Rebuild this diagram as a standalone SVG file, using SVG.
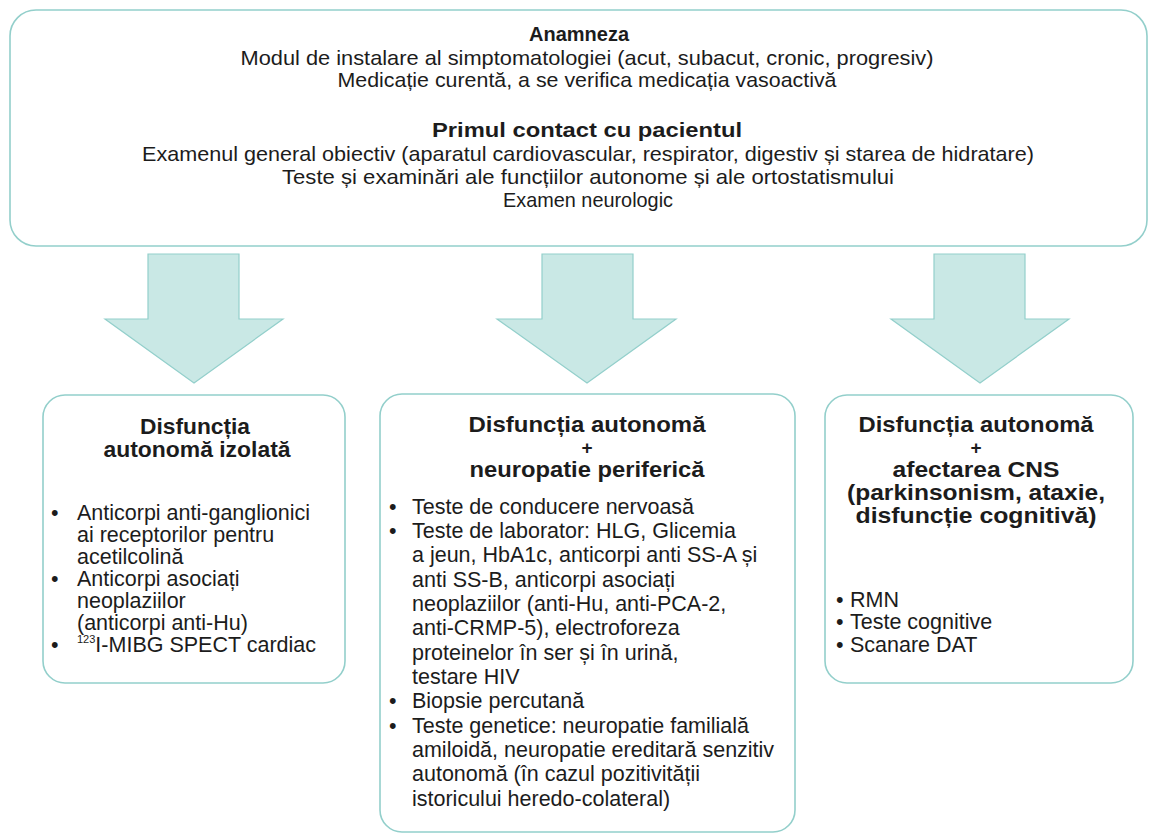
<svg xmlns="http://www.w3.org/2000/svg" width="1154" height="839" viewBox="0 0 1154 839">
  <style>
    .box { fill: #ffffff; stroke: #93cfcb; stroke-width: 1.6; }
    .arrow { fill: #c9e8e5; stroke: #93cfcb; stroke-width: 1.2; }
    text { font-family: "Liberation Sans", Arial, sans-serif; fill: #1c1c1c; }
    .t { font-size: 21px; text-anchor: middle; }
    .tb { font-size: 21px; font-weight: bold; text-anchor: middle; }
    .h { font-size: 22px; font-weight: bold; text-anchor: middle; }
    .plus { font-size: 19px; font-weight: bold; text-anchor: middle; }
    .b { font-size: 21.5px; }
    .sup { font-size: 11px; }
  </style>
  <rect width="1154" height="839" fill="#ffffff"/>

  <!-- initial assessment -->
  <g id="assessment">
    <rect class="box" x="10" y="10" width="1137" height="236" rx="26"/>
    <text class="tb" x="579" y="41" textLength="100" lengthAdjust="spacingAndGlyphs">Anamneza</text>
    <text class="t" x="587" y="65" textLength="693" lengthAdjust="spacingAndGlyphs">Modul de instalare al simptomatologiei (acut, subacut, cronic, progresiv)</text>
    <text class="t" x="587" y="87" textLength="499" lengthAdjust="spacingAndGlyphs">Medicație curentă, a se verifica medicația vasoactivă</text>
    <text class="tb" x="587" y="137" textLength="310" lengthAdjust="spacingAndGlyphs">Primul contact cu pacientul</text>
    <text class="t" x="588" y="161" textLength="892" lengthAdjust="spacingAndGlyphs">Examenul general obiectiv (aparatul cardiovascular, respirator, digestiv și starea de hidratare)</text>
    <text class="t" x="588" y="184" textLength="612" lengthAdjust="spacingAndGlyphs">Teste și examinări ale funcțiilor autonome și ale ortostatismului</text>
    <text class="t" x="588" y="207" textLength="170" lengthAdjust="spacingAndGlyphs">Examen neurologic</text>
  </g>

  <!-- block arrows -->
  <g id="connectors">
    <polygon class="arrow" points="148,254 239,254 239,319 283,319 194,383 105,319 148,319"/>
    <polygon class="arrow" points="542,254 633,254 633,319 676,319 587,383 497,319 542,319"/>
    <polygon class="arrow" points="934,254 1025,254 1025,319 1069,319 980,383 891,319 934,319"/>
  </g>

  <!-- isolated autonomic dysfunction -->
  <g id="isolated">
    <rect class="box" x="43" y="395" width="302" height="288" rx="22"/>
    <text class="h" x="195" y="434" textLength="110" lengthAdjust="spacingAndGlyphs">Disfuncția</text>
    <text class="h" x="197" y="457" textLength="187" lengthAdjust="spacingAndGlyphs">autonomă izolată</text>
    <g class="b">
      <text x="51" y="520">•</text><text x="77" y="520">Anticorpi anti-ganglionici</text>
      <text x="77" y="542">ai receptorilor pentru</text>
      <text x="77" y="564">acetilcolină</text>
      <text x="51" y="586">•</text><text x="77" y="586">Anticorpi asociați</text>
      <text x="77" y="608">neoplaziilor</text>
      <text x="77" y="630">(anticorpi anti-Hu)</text>
      <text x="51" y="652">•</text><text x="77" y="652"><tspan class="sup" dy="-9">123</tspan><tspan dy="9">I-MIBG SPECT cardiac</tspan></text>
    </g>
  </g>

  <!-- autonomic dysfunction with peripheral neuropathy -->
  <g id="peripheral">
    <rect class="box" x="380" y="394" width="415" height="438" rx="22"/>
    <text class="h" x="587" y="432" textLength="237" lengthAdjust="spacingAndGlyphs">Disfuncția autonomă</text>
    <text class="plus" x="587" y="454">+</text>
    <text class="h" x="587" y="477" textLength="235" lengthAdjust="spacingAndGlyphs">neuropatie periferică</text>
    <g class="b">
      <text x="389" y="514">•</text><text x="412" y="514">Teste de conducere nervoasă</text>
      <text x="389" y="538">•</text><text x="412" y="538">Teste de laborator: HLG, Glicemia</text>
      <text x="412" y="562">a jeun, HbA1c, anticorpi anti SS-A și</text>
      <text x="412" y="587">anti SS-B, anticorpi asociați</text>
      <text x="412" y="611">neoplaziilor (anti-Hu, anti-PCA-2,</text>
      <text x="412" y="635">anti-CRMP-5), electroforeza</text>
      <text x="412" y="660">proteinelor în ser și în urină,</text>
      <text x="412" y="684">testare HIV</text>
      <text x="389" y="708">•</text><text x="412" y="708">Biopsie percutană</text>
      <text x="389" y="733">•</text><text x="412" y="733">Teste genetice: neuropatie familială</text>
      <text x="412" y="757">amiloidă, neuropatie ereditară senzitiv</text>
      <text x="412" y="781">autonomă (în cazul pozitivității</text>
      <text x="412" y="806">istoricului heredo-colateral)</text>
    </g>
  </g>

  <!-- autonomic dysfunction with CNS involvement -->
  <g id="cns">
    <rect class="box" x="825" y="395" width="308" height="288" rx="22"/>
    <text class="h" x="976" y="432" textLength="235" lengthAdjust="spacingAndGlyphs">Disfuncția autonomă</text>
    <text class="plus" x="976" y="454">+</text>
    <text class="h" x="976" y="477" textLength="167" lengthAdjust="spacingAndGlyphs">afectarea CNS</text>
    <text class="h" x="976" y="500" textLength="258" lengthAdjust="spacingAndGlyphs">(parkinsonism, ataxie,</text>
    <text class="h" x="976" y="523" textLength="241" lengthAdjust="spacingAndGlyphs">disfuncție cognitivă)</text>
    <g class="b">
      <text x="836" y="607">•</text><text x="850" y="607">RMN</text>
      <text x="836" y="629">•</text><text x="850" y="629">Teste cognitive</text>
      <text x="836" y="652">•</text><text x="850" y="652">Scanare DAT</text>
    </g>
  </g>
</svg>
